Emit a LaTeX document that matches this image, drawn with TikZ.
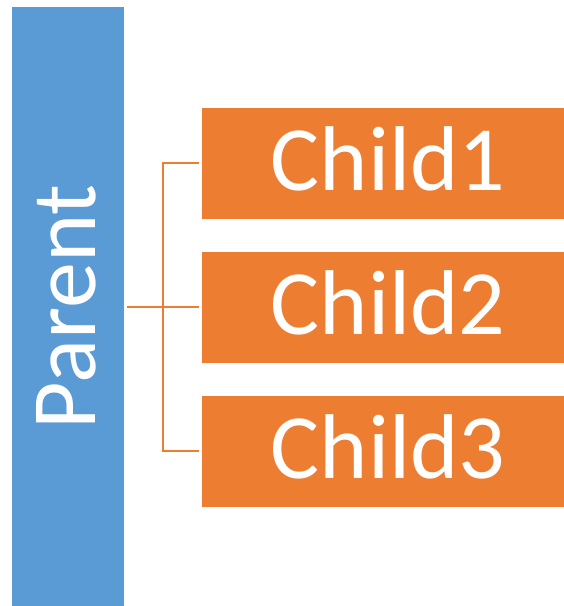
\documentclass[tikz,border=0pt]{standalone}
\usepackage{fontspec}
\setmainfont{Carlito}
\definecolor{pblue}{HTML}{5B9BD5}
\definecolor{corange}{HTML}{ED7D31}
\begin{document}
\begin{tikzpicture}[x=1pt,y=-1pt,
  parentbox/.style={fill=pblue,draw=none,minimum width=112pt,minimum height=599pt,inner sep=0pt,anchor=north west},
  childbox/.style={fill=corange,draw=none,minimum width=362pt,minimum height=111pt,inner sep=0pt,anchor=north west},
  childtext/.style={text=white,font=\fontsize{92}{92}\selectfont,anchor=base,inner sep=0pt},
  link/.style={draw=corange,line width=2pt}]
\useasboundingbox (0,0) rectangle (564,606);
\node[parentbox] (parent) at (12,7) {};
\node[text=white,font=\fontsize{92}{92}\selectfont,rotate=90,anchor=base,inner sep=0pt] (ptext) at (95,307) {Parent};
\node[childbox] (c1) at (202,108) {};
\node[childbox] (c2) at (202,252) {};
\node[childbox] (c3) at (202,396) {};
\node[childtext] (t1) at (388,190) {Child1};
\node[childtext] (t2) at (388,334) {Child2};
\node[childtext] (t3) at (388,478) {Child3};
\coordinate (j) at (163,307);
\coordinate (jt) at (163,163);
\coordinate (jb) at (163,451);
\draw[link] (parent.east |- j) ++(3,0) -- (j);
\draw[link] (j) -- ([xshift=-3pt]c2.west |- j);
\draw[link] ([xshift=-3pt]c1.west |- jt) -- (jt) -- (jb) -- ([xshift=-3pt]c3.west |- jb);
\end{tikzpicture}
\end{document}
